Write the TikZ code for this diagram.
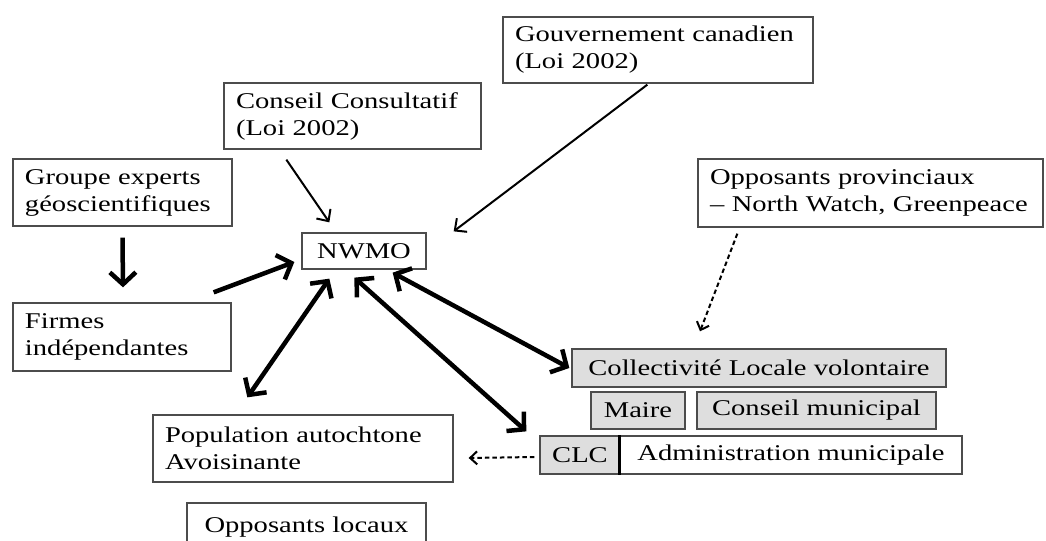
\documentclass[tikz,border=0pt]{standalone}
\usepackage{fontspec}
\setmainfont{Liberation Serif}[FakeStretch=1.27]
\usetikzlibrary{arrows.meta,calc}
\begin{document}
\begin{tikzpicture}[x=1bp,y=-1bp,
  box/.style={draw=black!70, line width=1.3bp, font=\fontsize{22.5bp}{27bp}\selectfont, inner xsep=0pt, inner ysep=0pt},
  gbox/.style={box, fill=black!13},
  thinarr/.style={line width=2bp, -{Straight Barb[length=9bp,width=17bp]}},
  thickarr/.style={line width=4.5bp, -{Straight Barb[length=12bp,width=26bp]}},
  thickboth/.style={line width=4.5bp, {Straight Barb[length=12bp,width=26bp]}-{Straight Barb[length=12bp,width=26bp]}},
  dasharr/.style={line width=2bp, dash pattern=on 4.5bp off 3bp, -{Straight Barb[length=7bp,width=13bp]}}
]
\clip (0,0) rectangle (1046,541);
\fill[white] (0,0) rectangle (1046,541);

\node[box, minimum width=310bp, minimum height=66bp, text width=286bp, align=left] (gouv) at (658,50) {Gouvernement canadien\\(Loi 2002)};
\node[box, minimum width=257bp, minimum height=66bp, text width=233bp, align=left] (cons) at (352.5,116) {Conseil Consultatif\\(Loi 2002)};
\node[box, minimum width=219bp, minimum height=67bp, text width=195bp, align=left] (grp) at (122.5,192.5) {Groupe experts\\géoscientifiques};
\node[box, minimum width=124bp, minimum height=36bp] (nwmo) at (364,251) {NWMO};
\node[box, minimum width=345bp, minimum height=68bp, text width=321bp, align=left] (oppp) at (870.5,193) {Opposants provinciaux\\– North Watch, Greenpeace};
\node[box, minimum width=218bp, minimum height=68bp, text width=194bp, align=left] (firm) at (122,337) {Firmes\\indépendantes};
\node[box, minimum width=300bp, minimum height=67bp, text width=276bp, align=left] (pop) at (303,448.5) {Population autochtone\\Avoisinante};
\node[box, minimum width=239bp, minimum height=48bp] (oppl) at (306.5,527) {Opposants locaux};

\node[gbox, minimum width=374bp, minimum height=38bp] (coll) at (759,368) {Collectivité Locale volontaire};
\node[gbox, minimum width=94bp, minimum height=37bp] (maire) at (638,410.5) {Maire};
\node[gbox, minimum width=239bp, minimum height=37bp] (cmun) at (816.5,410.5) {Conseil municipal};
\node[gbox, minimum width=80bp, minimum height=38bp] (clc) at (580,455) {CLC};
\node[box, minimum width=342bp, minimum height=38bp] (adm) at (791,455) {Administration municipale};
\draw[line width=2.5bp] (adm.north west) -- (adm.south west);

% connectors
\draw[thinarr] ($(cons.south west)+(63,10)$) -- ($(nwmo.north west)+(28,-10)$);
\draw[thinarr] ($(gouv.south west)+(145,1)$) -- ($(nwmo.north east)+(27,-1)$);
\draw[thickarr] ($(grp.south)+(0,11)$) -- ($(firm.north)+(1,-15)$);
\draw[thickarr] ($(firm.north east)+(-18,-10)$) -- ($(nwmo.west)+(-7,11)$);
\draw[thickboth] ($(nwmo.south west)+(28,9)$) -- ($(pop.north west)+(95,-17)$);
\draw[thickboth] ($(nwmo.south west)+(53,8)$) -- ($(clc.north west)+(-13,-4)$);
\draw[thickboth] ($(nwmo.south east)+(-34,3)$) -- ($(coll.west)+(-2,0)$);
\draw[dasharr] ($(oppp.south west)+(40,6)$) -- ($(coll.north)+(-59,-17)$);
\draw[dasharr] ($(clc.west)+(-5,2)$) -- ($(pop.east)+(15,9.5)$);
\end{tikzpicture}
\end{document}
